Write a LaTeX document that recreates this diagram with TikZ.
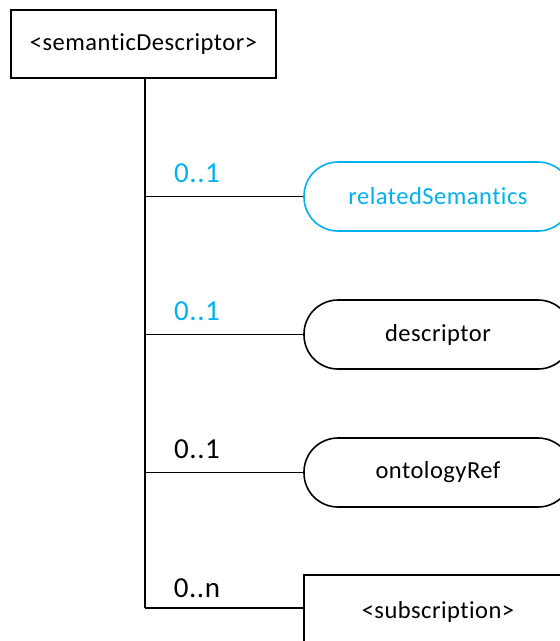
\documentclass[tikz,border=0pt]{standalone}
\usepackage{fontspec}
\setmainfont[Ligatures=NoCommon, LetterSpace=2]{Carlito}
\definecolor{skyblue}{RGB}{0,176,240}
\begin{document}
\begin{tikzpicture}[x=1pt,y=-1pt,
  box/.style={draw, line width=1.6pt, inner sep=0pt, minimum width=265pt, minimum height=68pt, font=\fontsize{24.5}{28}\selectfont},
  pill/.style={draw, line width=1.6pt, inner sep=0pt, rounded corners=34pt, minimum width=268pt, minimum height=69pt, font=\fontsize{24.5}{28}\selectfont},
  lbl/.style={inner sep=0pt, font=\fontsize{29}{33}\selectfont},
  spine/.style={line width=2.2pt},
  branch/.style={line width=1.4pt}
]
\useasboundingbox (0,0) rectangle (560,641);
\clip (0,0) rectangle (560,641);
\node[box] (top) at (143.5,44) {<semanticDescriptor>};
\node[pill, draw=skyblue, text=skyblue] (rel) at (438,196.5) {relatedSemantics};
\node[pill] (desc) at (438,334.5) {descriptor};
\node[pill] (onto) at (438,472.5) {ontologyRef};
\node[box, minimum width=268pt, minimum height=74pt] (sub) at (438,612) {<subscription>};
\coordinate (j1) at (145,196.5);
\coordinate (j2) at (145,334.5);
\coordinate (j3) at (145,472.5);
\coordinate (j4) at (145,608);
\draw[spine] (top.south -| j4) -- (j4);
\draw[branch] (j1) -- (rel.west);
\draw[branch] (j2) -- (desc.west);
\draw[branch] (j3) -- (onto.west);
\draw[branch] (j4) -- (j4 -| sub.west);
\node[lbl, text=skyblue] (m1) at (197,173) {0..1};
\node[lbl, text=skyblue] (m2) at (197,311) {0..1};
\node[lbl] (m3) at (197,449) {0..1};
\node[lbl] (m4) at (197,588) {0..n};
\end{tikzpicture}
\end{document}
